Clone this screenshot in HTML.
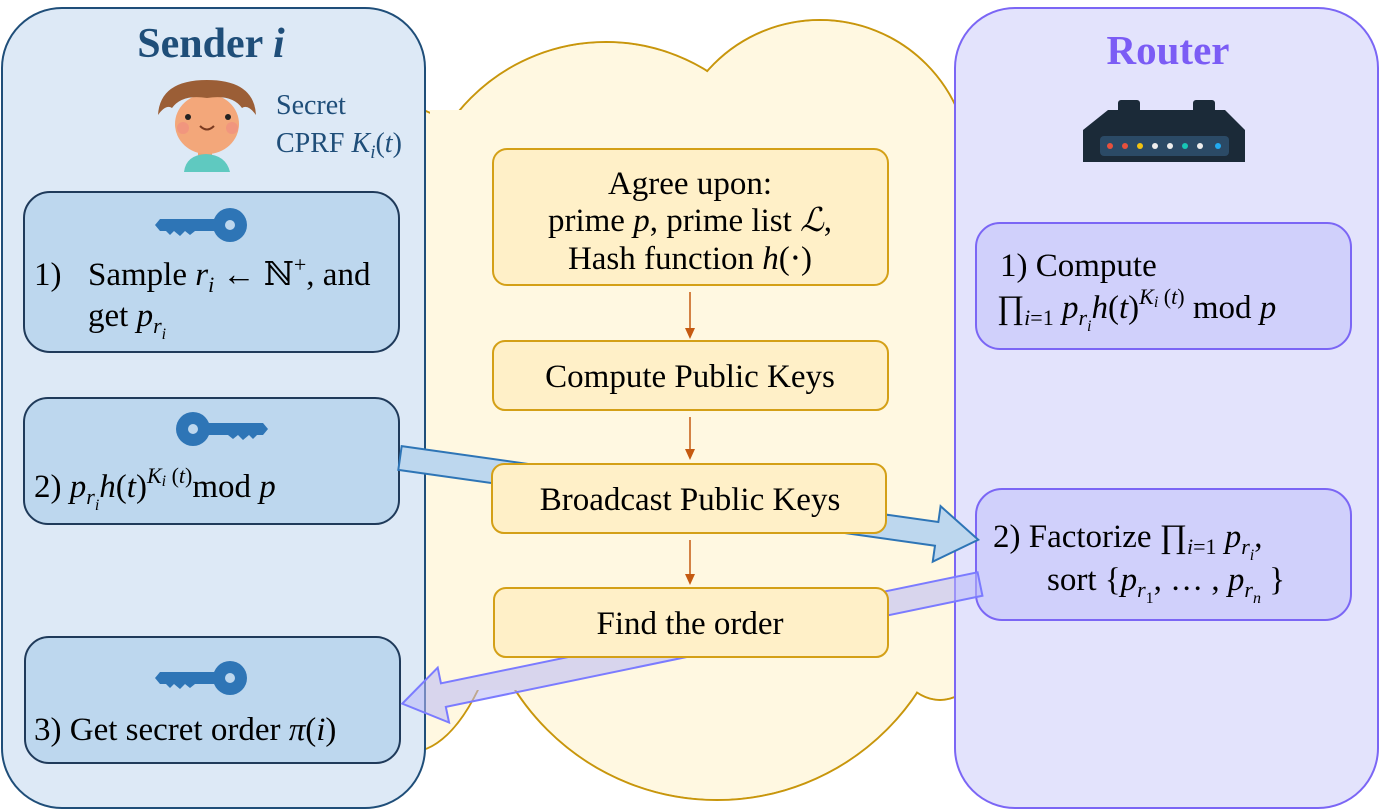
<!DOCTYPE html>
<html><head><meta charset="utf-8"><style>
html,body{margin:0;padding:0;background:#fff;}
svg{display:block;}
text{font-family:"Liberation Serif","DejaVu Serif",serif;}
.i{font-style:italic;}
</style></head><body>
<svg width="1381" height="812" viewBox="0 0 1381 812" xmlns="http://www.w3.org/2000/svg">
<!-- cloud -->
<g stroke="#c8960c" stroke-width="2" fill="#fff8e1">
  <circle cx="606" cy="233" r="191"/>
  <circle cx="820" cy="170" r="150"/>
  <circle cx="717" cy="560" r="240"/>
  <ellipse cx="410" cy="430" rx="115" ry="322"/>
  <ellipse cx="940" cy="420" rx="100" ry="280"/>
</g>
<g fill="#fff8e1">
  <circle cx="606" cy="233" r="190"/>
  <circle cx="820" cy="170" r="149"/>
  <circle cx="717" cy="560" r="239"/>
  <ellipse cx="410" cy="430" rx="114" ry="321"/>
  <ellipse cx="940" cy="420" rx="99" ry="279"/>
  <rect x="430" y="110" width="520" height="580"/>
</g>
<!-- outer boxes -->
<rect x="2" y="8" width="423" height="800" rx="60" fill="#dde9f6" stroke="#1f4e79" stroke-width="2"/>
<rect x="955" y="8" width="423" height="800" rx="60" fill="#e3e3fc" stroke="#7b66f5" stroke-width="2"/>
<text x="211" y="57" text-anchor="middle" font-size="42" font-weight="bold" fill="#1f4e79">Sender <tspan class="i">i</tspan></text>
<text x="1168" y="64" text-anchor="middle" font-size="41" font-weight="bold" fill="#7b5cf5">Router</text>
<!-- person -->
<g>
  <rect x="198" y="140" width="14" height="18" fill="#f0a070"/>
  <path d="M184 172 Q186 155 206 154 Q226 155 230 172 Z" fill="#5fc9c0"/>
  <ellipse cx="207" cy="124" rx="32" ry="30" fill="#f3a77a"/>
  <path d="M158 115 Q160 80 207 80 Q254 80 256 115 Q248 104 242 108 Q232 94 207 98 Q182 94 172 108 Q166 104 158 115 Z" fill="#9b5e36"/>
  <circle cx="188" cy="117" r="3" fill="#222"/><circle cx="228" cy="117" r="3" fill="#222"/>
  <circle cx="183" cy="128" r="6" fill="#f08a80" opacity=".6"/><circle cx="232" cy="128" r="6" fill="#f08a80" opacity=".6"/>
  <path d="M200 126 Q207 133 214 126" stroke="#7a3a20" stroke-width="2" fill="none"/>
</g>
<text font-size="28" fill="#1f4e79"><tspan x="276" y="114">Secret</tspan><tspan x="276" y="152">CPRF <tspan class="i">K</tspan><tspan class="i" font-size="19" dy="6">i</tspan><tspan dy="-6">(</tspan><tspan class="i">t</tspan>)</tspan></text>
<!-- router icon -->
<g>
  <rect x="1118" y="100" width="22" height="14" rx="3" fill="#1b2a38"/>
  <rect x="1193" y="100" width="22" height="14" rx="3" fill="#1b2a38"/>
  <path d="M1083 130 L1108 110 L1225 110 L1245 130 L1245 162 L1083 162 Z" fill="#1b2a38"/>
  <rect x="1100" y="136" width="129" height="20" rx="4" fill="#2b4a66"/>
  <circle cx="1110" cy="146" r="3" fill="#e8503c"/><circle cx="1125" cy="146" r="3" fill="#e8503c"/><circle cx="1140" cy="146" r="3" fill="#f2c20f"/><circle cx="1155" cy="146" r="3" fill="#eee"/><circle cx="1170" cy="146" r="3" fill="#eee"/><circle cx="1185" cy="146" r="3" fill="#17c6b6"/><circle cx="1200" cy="146" r="3" fill="#eee"/><circle cx="1218" cy="146" r="3" fill="#22aaf0"/>
</g>
<!-- sender inner boxes -->
<g fill="#bdd7ee" stroke="#1f3a5a" stroke-width="2">
  <rect x="24" y="192" width="375" height="160" rx="26"/>
  <rect x="24" y="398" width="375" height="126" rx="24"/>
  <rect x="25" y="637" width="375" height="126" rx="24"/>
</g>
<defs>
  <g id="keyR" fill="#2e75b6">
    <circle cx="0" cy="0" r="17"/>
    <path d="M-10 -6 L-70 -6 L-75 0 L-70 6 L-64 6 L-60 10 L-56 6 L-50 11 L-45 6 L-40 10 L-35 6 L-10 6 Z"/>
    <circle cx="0" cy="0" r="5" fill="#bdd7ee"/>
  </g>
</defs>
<use href="#keyR" transform="translate(230,225)"/>
<use href="#keyR" transform="translate(230,678)"/>
<use href="#keyR" transform="translate(193,429) scale(-1,1)"/>
<text font-size="33" fill="#000"><tspan x="34" y="285">1)</tspan><tspan x="88" y="285">Sample <tspan class="i">r</tspan><tspan class="i" font-size="22" dy="7">i</tspan><tspan dy="-7"> ← ℕ</tspan><tspan font-size="22" dy="-13">+</tspan><tspan dy="13">, and</tspan></tspan><tspan x="88" y="326">get  <tspan class="i">p</tspan><tspan class="i" font-size="22" dy="7">r</tspan><tspan class="i" font-size="16" dy="6">i</tspan></tspan></text>
<text font-size="33" fill="#000" x="34" y="497">2)  <tspan class="i">p</tspan><tspan class="i" font-size="22" dy="7">r</tspan><tspan class="i" font-size="16" dy="6">i</tspan><tspan class="i" dy="-13">h</tspan>(<tspan class="i">t</tspan>)<tspan class="i" font-size="22" dy="-14">K</tspan><tspan class="i" font-size="16" dy="3">i</tspan><tspan font-size="22" dy="-3"> (</tspan><tspan class="i" font-size="22">t</tspan><tspan font-size="22">)</tspan><tspan dy="14">mod </tspan><tspan class="i">p</tspan></text>
<text font-size="33" fill="#000" x="34" y="740">3) Get secret order  <tspan class="i">π</tspan>(<tspan class="i">i</tspan>)</text>
<!-- router inner boxes -->
<g fill="#d0d0fb" stroke="#7b66f5" stroke-width="2">
  <rect x="976" y="223" width="375" height="126" rx="24"/>
  <rect x="976" y="489" width="375" height="131" rx="26"/>
</g>
<text font-size="33" fill="#000"><tspan x="1000" y="276">1) Compute</tspan><tspan x="997" y="318">∏<tspan class="i" font-size="22" dy="7">i</tspan><tspan font-size="22">=1</tspan><tspan dy="-7"> </tspan><tspan class="i">p</tspan><tspan class="i" font-size="22" dy="7">r</tspan><tspan class="i" font-size="16" dy="6">i</tspan><tspan class="i" dy="-13">h</tspan>(<tspan class="i">t</tspan>)<tspan class="i" font-size="22" dy="-14">K</tspan><tspan class="i" font-size="16" dy="3">i</tspan><tspan font-size="22" dy="-3"> (</tspan><tspan class="i" font-size="22">t</tspan><tspan font-size="22">)</tspan><tspan dy="14"> mod </tspan><tspan class="i">p</tspan></tspan></text>
<text font-size="33" fill="#000"><tspan x="993" y="547">2) Factorize  ∏<tspan class="i" font-size="22" dy="7">i</tspan><tspan font-size="22">=1</tspan><tspan dy="-7"> </tspan><tspan class="i">p</tspan><tspan class="i" font-size="22" dy="7">r</tspan><tspan class="i" font-size="16" dy="6">i</tspan><tspan dy="-13">,</tspan></tspan><tspan x="1047" y="590">sort {<tspan class="i">p</tspan><tspan class="i" font-size="22" dy="7">r</tspan><tspan font-size="16" dy="6">1</tspan><tspan dy="-13">, … , </tspan><tspan class="i">p</tspan><tspan class="i" font-size="22" dy="7">r</tspan><tspan class="i" font-size="16" dy="6">n</tspan><tspan dy="-13"> }</tspan></tspan></text>
<!-- big arrows -->
<g transform="translate(400,458) rotate(8.05)">
  <polygon points="0,-12 542,-12 542,-28 584,0 542,28 542,12 0,12" fill="#bdd7ee" stroke="#2e75b6" stroke-width="2"/>
</g>
<g transform="translate(980,584) rotate(168.3)">
  <polygon points="0,-12 548,-12 548,-28 590,0 548,28 548,12 0,12" fill="#b8b8f8" fill-opacity="0.55" stroke="#7b7bff" stroke-width="2"/>
</g>
<!-- center boxes -->
<g fill="#fff0c8" stroke="#d4a017" stroke-width="2">
  <rect x="493" y="149" width="395" height="136" rx="14"/>
  <rect x="493" y="341" width="395" height="69" rx="12"/>
  <rect x="492" y="464" width="394" height="69" rx="12"/>
  <rect x="494" y="588" width="394" height="69" rx="12"/>
</g>
<g font-size="33" fill="#000" text-anchor="middle">
  <text x="690" y="194">Agree upon:</text>
  <text x="690" y="231">prime <tspan class="i">p</tspan>, prime list <tspan class="i">ℒ</tspan>,</text>
  <text x="690" y="269">Hash function <tspan class="i">h</tspan>(⋅)</text>
  <text x="690" y="387">Compute Public Keys</text>
  <text x="690" y="510">Broadcast Public Keys</text>
  <text x="690" y="634">Find the order</text>
</g>
<g stroke="#c55a11" stroke-width="1.5" fill="#c55a11">
  <line x1="690" y1="292" x2="690" y2="330"/><polygon points="685,328 695,328 690,339" stroke="none"/>
  <line x1="690" y1="417" x2="690" y2="451"/><polygon points="685,449 695,449 690,460" stroke="none"/>
  <line x1="690" y1="540" x2="690" y2="576"/><polygon points="685,574 695,574 690,585" stroke="none"/>
</g>
</svg>
</body></html>
